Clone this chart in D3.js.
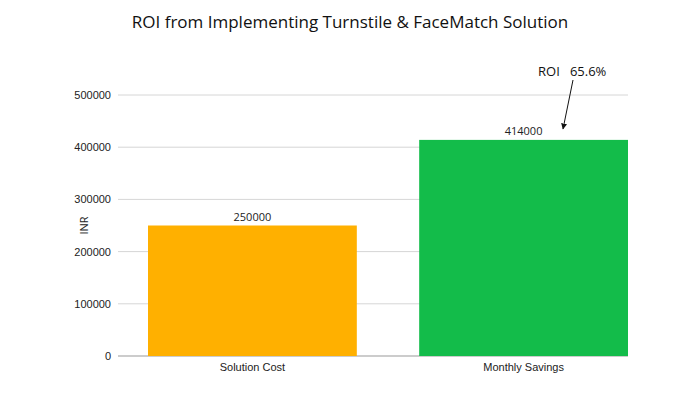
<!DOCTYPE html>
<html lang="en">
<head>
<meta charset="UTF-8">
<script src="https://cdn.jsdelivr.net/npm/d3@7"></script>
<style>
  body { margin: 0; background: #fff; font-family: "Open Sans", sans-serif; }
  .tick text { font-size: 11px; fill: #222; }
</style>
</head>
<body>
<svg id="chart" width="700" height="400"></svg>
<script>
const categories = ["Solution Cost", "Monthly Savings"];
const values = [250000, 414000];
const colors = ["#ffb000", "#13bc4a"];
const yTicks = [0, 100000, 200000, 300000, 400000, 500000];
const roiText = "ROI   65.6%";

const svg = d3.select("#chart");
const plotLeft = 118, plotRight = 628, plotTop = 95, plotBottom = 356;

const x = d3.scaleBand().domain(categories).range([148, plotRight]).paddingInner(0.23).paddingOuter(0);
const y = d3.scaleLinear().domain([0, 500000]).range([plotBottom, plotTop]);

// gridlines
svg.append("g").selectAll("line").data(yTicks).join("line")
  .attr("x1", plotLeft).attr("x2", plotRight)
  .attr("y1", d => y(d)).attr("y2", d => y(d))
  .attr("stroke", d => d === 0 ? "#999" : "#d6d6d6").attr("stroke-width", 1);

const yAxis = svg.append("g").attr("transform", `translate(${plotLeft - 4},0)`)
  .call(d3.axisLeft(y).tickValues(yTicks).tickSize(0).tickPadding(3).tickFormat(d3.format("d")));
yAxis.select(".domain").remove();

const xAxis = svg.append("g").attr("transform", `translate(0,${plotBottom})`)
  .call(d3.axisBottom(x).tickSize(0).tickPadding(7));
xAxis.select(".domain").remove();

svg.append("g").selectAll("rect").data(values).join("rect")
  .attr("x", (d, i) => x(categories[i]))
  .attr("width", x.bandwidth())
  .attr("y", d => y(d))
  .attr("height", d => plotBottom - y(d))
  .attr("fill", (d, i) => colors[i]);

svg.append("g").selectAll("text").data(values).join("text")
  .attr("x", (d, i) => x(categories[i]) + x.bandwidth() / 2)
  .attr("y", d => y(d) - 5)
  .attr("text-anchor", "middle").attr("font-size", 11).attr("fill", "#222")
  .text(d => d);

svg.append("text").attr("x", 350).attr("y", 28).attr("text-anchor", "middle")
  .attr("font-size", 17).attr("fill", "#111")
  .text("ROI from Implementing Turnstile & FaceMatch Solution");

svg.append("text").attr("transform", `translate(88,${(plotTop + plotBottom) / 2}) rotate(-90)`)
  .attr("text-anchor", "middle").attr("font-size", 11).attr("fill", "#222").text("INR");

// ROI annotation
svg.append("defs").append("marker").attr("id", "arr")
  .attr("viewBox", "0 0 10 10").attr("refX", 9).attr("refY", 5)
  .attr("markerWidth", 6).attr("markerHeight", 6).attr("orient", "auto")
  .append("path").attr("d", "M0,0L10,5L0,10z").attr("fill", "#111");
svg.append("text").attr("x", 538).attr("y", 76).attr("font-size", 13).attr("fill", "#111")
  .style("white-space", "pre").text(roiText);
svg.append("line").attr("x1", 573).attr("y1", 80).attr("x2", 563).attr("y2", 129)
  .attr("stroke", "#111").attr("stroke-width", 1).attr("marker-end", "url(#arr)");
</script>
</body>
</html>
